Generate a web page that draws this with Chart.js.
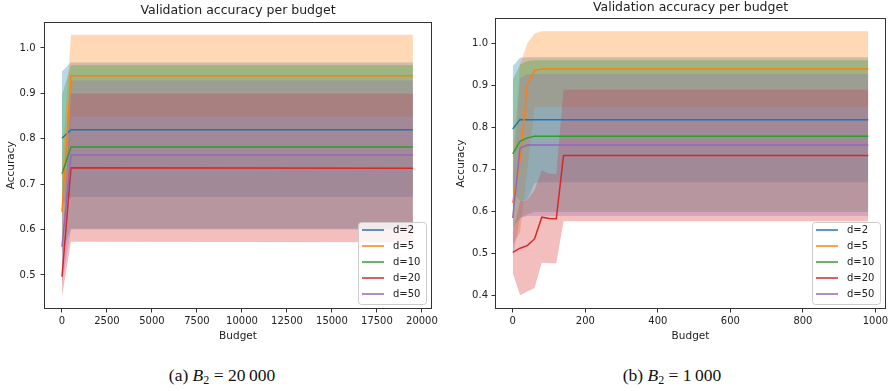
<!DOCTYPE html>
<html>
<head>
<meta charset="utf-8">
<script src="https://cdn.jsdelivr.net/npm/chart.js@4.4.1/dist/chart.umd.min.js"></script>
<style>
html, body { margin: 0; padding: 0; background: #fff; overflow: hidden; }
#page { position: relative; width: 889px; height: 391px; overflow: hidden; background: #fff; }
canvas { position: absolute; top: 0; }
#chartA { left: 0; }
#chartB { left: 445px; }
.cap { position: absolute; top: 365px; font-family: "Liberation Serif", "DejaVu Serif", serif; font-size: 17.5px;
       line-height: 20px; color: #111; white-space: nowrap; transform: translateX(-50%); }
.cap sub { font-size: 12px; vertical-align: -3px; line-height: 0; }
</style>
</head>
<body>
<div id="page">
  <canvas id="chartA" width="476" height="345"></canvas>
  <canvas id="chartB" width="491" height="345"></canvas>
  <div class="cap" style="left:222px">(a) <i>B</i><sub>2</sub> = 20&#8201;000</div>
  <div class="cap" style="left:672px">(b) <i>B</i><sub>2</sub> = 1&#8201;000</div>
</div>
<script>
const labels = ['d=2', 'd=5', 'd=10', 'd=20', 'd=50'];
const colors = ['#1f77b4', '#ff7f0e', '#2ca02c', '#d62728', '#9467bd'];

// (a) B2 = 20000 : rows follow labels
const budgetA = [0, 500, 19500];
const meanA = [
  [0.801, 0.820, 0.820],
  [0.639, 0.939, 0.939],
  [0.723, 0.782, 0.782],
  [0.496, 0.736, 0.735],
  [0.562, 0.764, 0.764]
];
const upperA = [
  [0.948, 0.968, 0.968],
  [0.740, 1.029, 1.029],
  [0.897, 0.962, 0.962],
  [0.540, 0.899, 0.899],
  [0.645, 0.928, 0.928]
];
const lowerA = [
  [0.654, 0.672, 0.672],
  [0.540, 0.849, 0.849],
  [0.549, 0.602, 0.602],
  [0.452, 0.573, 0.572],
  [0.479, 0.600, 0.600]
];
const xTicksA = [0, 2500, 5000, 7500, 10000, 12500, 15000, 17500, 20000];
const yTicksA = [0.5, 0.6, 0.7, 0.8, 0.9, 1.0];

// (b) B2 = 1000
const budgetB = [0, 20, 40, 60, 80, 100, 120, 140, 980];
const meanB = [
  [0.796, 0.819, 0.818, 0.818, 0.818, 0.818, 0.818, 0.818, 0.818],
  [0.620, 0.720, 0.902, 0.936, 0.939, 0.939, 0.939, 0.939, 0.939],
  [0.737, 0.767, 0.775, 0.779, 0.779, 0.779, 0.779, 0.779, 0.779],
  [0.502, 0.512, 0.518, 0.534, 0.586, 0.583, 0.582, 0.733, 0.733],
  [0.584, 0.751, 0.758, 0.758, 0.758, 0.758, 0.758, 0.758, 0.758]
];
const upperB = [
  [0.946, 0.966, 0.967, 0.967, 0.967, 0.967, 0.967, 0.967, 0.967],
  [0.720, 0.950, 1.000, 1.024, 1.029, 1.029, 1.029, 1.029, 1.029],
  [0.914, 0.950, 0.958, 0.960, 0.960, 0.960, 0.960, 0.960, 0.960],
  [0.551, 0.624, 0.627, 0.651, 0.697, 0.690, 0.688, 0.890, 0.890],
  [0.680, 0.918, 0.927, 0.927, 0.927, 0.927, 0.927, 0.927, 0.927]
];
const lowerB = [
  [0.646, 0.625, 0.628, 0.668, 0.669, 0.669, 0.669, 0.669, 0.669],
  [0.520, 0.550, 0.700, 0.848, 0.849, 0.849, 0.849, 0.849, 0.849],
  [0.560, 0.584, 0.592, 0.598, 0.598, 0.598, 0.598, 0.598, 0.598],
  [0.453, 0.400, 0.409, 0.417, 0.477, 0.476, 0.476, 0.576, 0.576],
  [0.490, 0.584, 0.589, 0.589, 0.589, 0.589, 0.589, 0.589, 0.589]
];
const xTicksB = [0, 200, 400, 600, 800, 1000];
const yTicksB = [0.4, 0.5, 0.6, 0.7, 0.8, 0.9, 1.0];

const FONT = '"DejaVu Sans", sans-serif';
const TEXT = '#222';
const AXIS = '#333';

const rgba = (hex, a) => {
  const n = parseInt(hex.slice(1), 16);
  return `rgba(${n >> 16}, ${(n >> 8) & 255}, ${n & 255}, ${a})`;
};
const pts = (xs, ys) => xs.map((x, i) => ({ x: x, y: ys[i] }));

// mean lines on top, bands of later series above earlier ones (like matplotlib)
const makeDatasets = (budget, mean, upper, lower) => {
  let sets = [];
  labels.forEach((lab, i) => {
    sets.push({
      label: lab, isMean: true, data: pts(budget, mean[i]),
      borderColor: colors[i], borderWidth: 1.5, pointRadius: 0, fill: false, order: 5 - i
    });
  });
  labels.forEach((lab, i) => {
    sets.push({
      label: lab + ' std', data: pts(budget, upper[i]), borderWidth: 0, borderColor: 'rgba(0,0,0,0)',
      backgroundColor: rgba(colors[i], 0.3), pointRadius: 0, fill: '+1', order: 10 - i
    });
    sets.push({
      label: lab + ' low', data: pts(budget, lower[i]), borderWidth: 0, borderColor: 'rgba(0,0,0,0)',
      pointRadius: 0, fill: false, order: 10 - i
    });
  });
  return sets;
};

const frame = {
  id: 'frame',
  afterDatasetsDraw(chart) {
    const { ctx, chartArea: a } = chart;
    ctx.save();
    ctx.strokeStyle = AXIS;
    ctx.lineWidth = 1;
    ctx.strokeRect(Math.round(a.left) + 0.5, Math.round(a.top) + 0.5,
      Math.round(a.right - a.left) - 1, Math.round(a.bottom - a.top) - 1);
    ctx.restore();
  }
};

// matplotlib style legend box in the lower right corner of the axes
const boxLegend = {
  id: 'boxLegend',
  afterDatasetsDraw(chart, args, opts) {
    const { ctx, chartArea: a } = chart;
    const items = chart.data.datasets.filter(d => d.isMean);
    const w = 68, h = 82, rowH = 16;
    const x0 = Math.round(a.right - opts.right - w), y0 = Math.round(a.bottom - opts.bottom - h);
    ctx.save();
    ctx.fillStyle = 'rgba(255,255,255,0.8)';
    ctx.strokeStyle = '#cccccc';
    ctx.lineWidth = 1;
    ctx.beginPath();
    if (ctx.roundRect) ctx.roundRect(x0 + 0.5, y0 + 0.5, w, h, 3); else ctx.rect(x0 + 0.5, y0 + 0.5, w, h);
    ctx.fill();
    ctx.stroke();
    ctx.font = '10px ' + FONT;
    ctx.textBaseline = 'middle';
    items.forEach((d, i) => {
      const y = y0 + 8 + i * rowH;
      ctx.strokeStyle = d.borderColor;
      ctx.lineWidth = 1.5;
      ctx.beginPath();
      ctx.moveTo(x0 + 4, y);
      ctx.lineTo(x0 + 26, y);
      ctx.stroke();
      ctx.fillStyle = TEXT;
      ctx.fillText(d.label, x0 + 35, y);
    });
    ctx.restore();
  }
};

const makeChart = (id, p) => new Chart(document.getElementById(id), {
  type: 'line',
  data: { datasets: makeDatasets(p.budget, p.mean, p.upper, p.lower) },
  options: {
    responsive: false,
    animation: false,
    devicePixelRatio: 1,
    layout: { padding: 0 },
    elements: { line: { tension: 0 } },
    plugins: {
      legend: { display: false },
      tooltip: { enabled: false },
      title: {
        display: true, text: 'Validation accuracy per budget', color: TEXT,
        font: { family: FONT, size: 12.5, weight: 'normal' },
        padding: { top: p.titleTop, bottom: p.titleBottom }
      },
      boxLegend: { right: 6, bottom: 5 }
    },
    scales: {
      x: {
        type: 'linear', min: p.xMin, max: p.xMax,
        afterBuildTicks: s => { s.ticks = p.xTicks.map(v => ({ value: v })); },
        afterFit: s => { s.height = 36; s.paddingRight = p.margin; },
        ticks: { callback: v => String(v), color: TEXT, font: { family: FONT, size: 10 }, padding: 3, maxRotation: 0, autoSkip: false },
        grid: { display: true, drawOnChartArea: false, drawTicks: true, tickLength: 3.5, color: AXIS },
        border: { display: false },
        title: { display: true, text: 'Budget', color: TEXT, font: { family: FONT, size: 10.5 }, padding: { top: 0, bottom: 2 } }
      },
      y: {
        min: p.yMin, max: p.yMax,
        afterBuildTicks: s => { s.ticks = p.yTicks.map(v => ({ value: v })); },
        afterFit: s => { s.width = p.margin; },
        ticks: { callback: v => v.toFixed(1), color: TEXT, font: { family: FONT, size: 10 }, padding: p.yPad, autoSkip: false },
        grid: { display: true, drawOnChartArea: false, drawTicks: true, tickLength: 3.5, color: AXIS },
        border: { display: false },
        title: { display: true, text: 'Accuracy', color: TEXT, font: { family: FONT, size: 10.5 }, padding: { top: p.yTitlePad, bottom: 0 } }
      }
    }
  },
  plugins: [frame, boxLegend]
});

makeChart('chartA', {
  budget: budgetA, mean: meanA, upper: upperA, lower: lowerA,
  xTicks: xTicksA, yTicks: yTicksA, xMin: -1000, xMax: 20560, yMin: 0.425, yMax: 1.058,
  margin: 44, titleTop: 3.5, titleBottom: 3.1, yPad: 5, yTitlePad: 4.5
});
makeChart('chartB', {
  budget: budgetB, mean: meanB, upper: upperB, lower: lowerB,
  xTicks: xTicksB, yTicks: yTicksB, xMin: -49, xMax: 1029, yMin: 0.367, yMax: 1.061,
  margin: 50, titleTop: 0, titleBottom: 2.9, yPad: 3.5, yTitlePad: 10.4
});
</script>
</body>
</html>
